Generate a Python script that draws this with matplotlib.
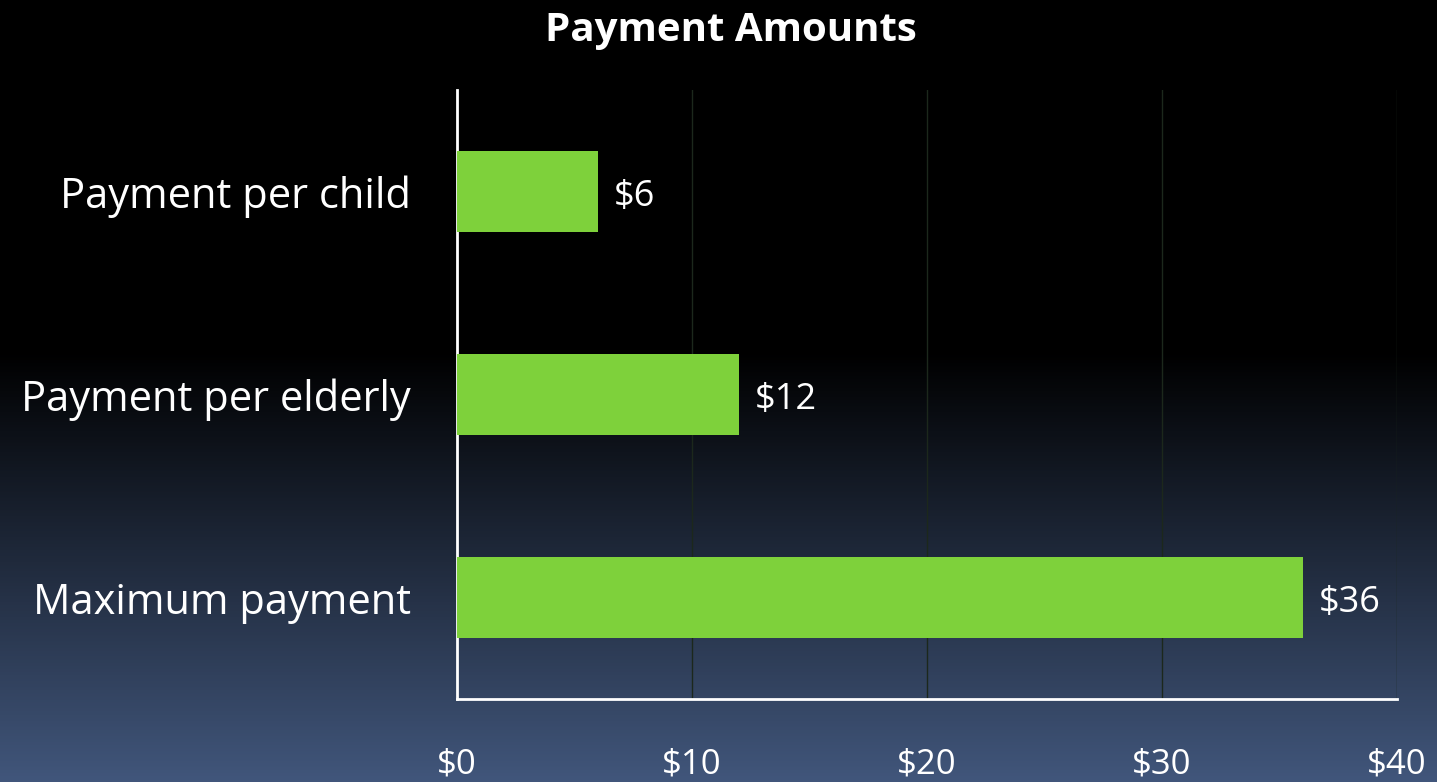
import numpy as np
import matplotlib
matplotlib.use("Agg")
import matplotlib.pyplot as plt
from matplotlib.colors import LinearSegmentedColormap

categories = ["Maximum payment", "Payment per elderly", "Payment per child"]
values = [36, 12, 6]
xticks = [0, 10, 20, 30, 40]
xtick_labels = ["$0", "$10", "$20", "$30", "$40"]
title = "Payment Amounts"

plt.rcParams['font.family'] = ['Open Sans', 'DejaVu Sans']

fig = plt.figure(figsize=(14.37, 7.82), dpi=100)

# background gradient
bg = fig.add_axes([0, 0, 1, 1], zorder=-10)
cmap = LinearSegmentedColormap.from_list("bg", [(0, "#000000"), (0.45, "#000000"), (1.0, "#41567b")])
grad = np.linspace(0, 1, 512).reshape(-1, 1)
bg.imshow(grad, aspect="auto", cmap=cmap, extent=[0, 1, 1, 0])
bg.set_axis_off()

ax = fig.add_axes([457/1437, 1-699/782, (1397-457)/1437, (699-90)/782])
ax.patch.set_alpha(0)
y = np.arange(len(categories))
ax.barh(y, values, height=0.4, color="#7ed13b", zorder=3)
ax.set_xlim(0, 40)
ax.set_ylim(-0.5, 2.5)
ax.set_xticks(xticks)
ax.set_xticklabels(xtick_labels)
ax.set_yticks(y)
ax.set_yticklabels(categories)
ax.tick_params(axis='x', colors='white', labelsize=25, length=0, pad=35)
ax.tick_params(axis='y', colors='white', labelsize=30, length=0, pad=33)
ax.grid(axis='x', color='#1c281c', linewidth=1.0, zorder=0)
ax.set_axisbelow(True)
for s in ['top', 'right']:
    ax.spines[s].set_visible(False)
for s in ['left', 'bottom']:
    ax.spines[s].set_color('white')
    ax.spines[s].set_linewidth(2)

for yi, v in zip(y, values):
    ax.text(v + 0.65, yi - 0.025, f"${v}", color='white', fontsize=26, va='center', ha='left')

fig.text(731/1437, 1-30/782, title, color='white', fontsize=29, fontweight='bold', ha='center', va='center')

fig.savefig("out.png", dpi=100, facecolor='black')
